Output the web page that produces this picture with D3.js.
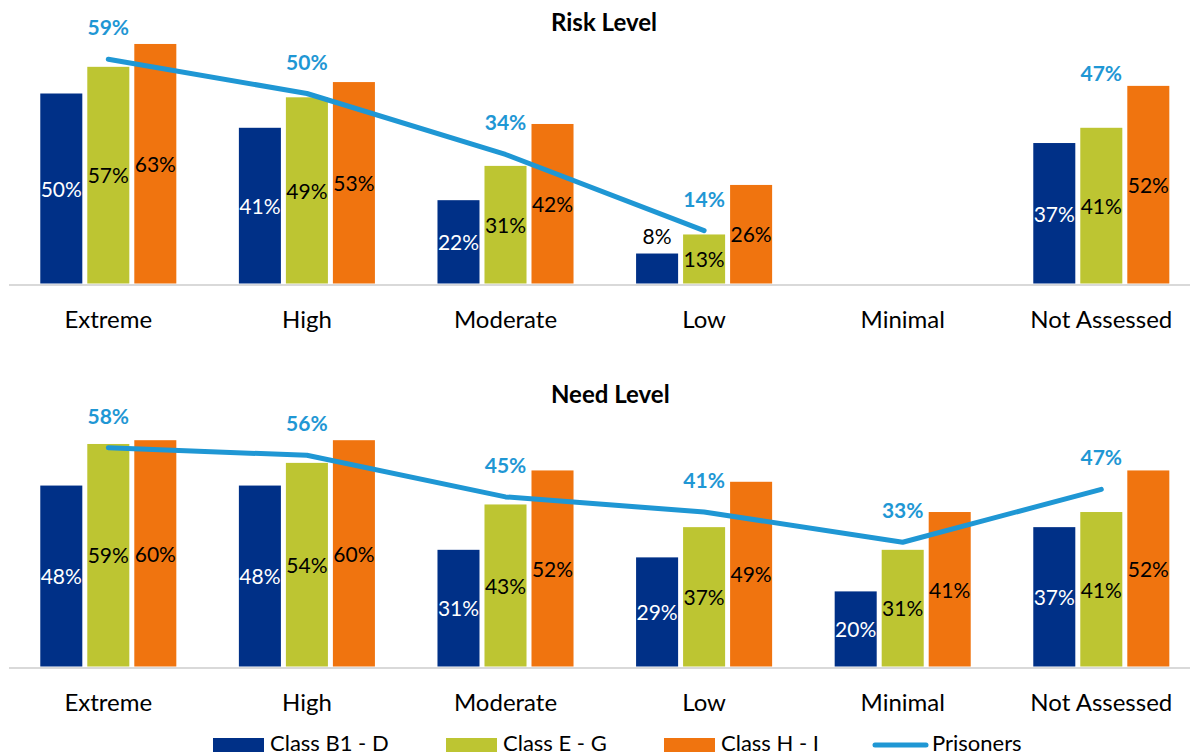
<!DOCTYPE html>
<html>
<head>
<meta charset="utf-8">
<script src="https://cdn.jsdelivr.net/npm/d3@7"></script>
<style>
  html, body { margin: 0; padding: 0; background: #ffffff; }
  svg { display: block; font-family: Lato, "Noto Sans", sans-serif; }
</style>
</head>
<body>
<svg id="chart" width="1190" height="756"></svg>
<script>
// ---------- data ----------
const categories = ["Extreme", "High", "Moderate", "Low", "Minimal", "Not Assessed"];
const seriesNames = ["Class B1 - D", "Class E - G", "Class H - I"];
const lineName = "Prisoners";

const riskB1D = [50, 41, 22, 8, null, 37];
const riskEG  = [57, 49, 31, 13, null, 41];
const riskHI  = [63, 53, 42, 26, null, 52];
const riskPrisoners = [59, 50, 34, 14, null, 47];

const needB1D = [48, 48, 31, 29, 20, 37];
const needEG  = [59, 54, 43, 37, 31, 41];
const needHI  = [60, 60, 52, 49, 41, 52];
const needPrisoners = [58, 56, 45, 41, 33, 47];

const panelTitles = ["Risk Level", "Need Level"];

// ---------- styling ----------
const colors = ["#003087", "#bdc532", "#f0740f"];
const labelColors = ["#ffffff", "#000000", "#000000"];
const lineColor = "#1f97d4";

const svg = d3.select("#chart");

const x0 = d3.scaleBand().domain(categories).range([9, 1200.6])
  .paddingInner(0.315).paddingOuter(0.1575);
const x1 = d3.scaleBand().domain(seriesNames).range([0, x0.bandwidth()])
  .paddingInner(0.106);

const panels = [
  { title: panelTitles[0], bars: [riskB1D, riskEG, riskHI], line: riskPrisoners,
    y: d3.scaleLinear().domain([0, 70]).range([284, 284 - 70 * 3.81]),
    titleY: 31, catY: 328 },
  { title: panelTitles[1], bars: [needB1D, needEG, needHI], line: needPrisoners,
    y: d3.scaleLinear().domain([0, 70]).range([667, 667 - 70 * 3.78]),
    titleY: 403, catY: 711 }
];

panels.forEach((p, pi) => {
  const g = svg.append("g");
  const y = p.y;
  const base = y(0);

  // title
  g.append("text").attr("x", 551).attr("y", p.titleY)
    .attr("text-anchor", "start").attr("font-weight", "bold")
    .attr("font-size", 24).attr("fill", "#000").text(p.title);

  // category axis
  const xAxis = d3.axisBottom(x0).tickSize(0).tickPadding(0);
  const ax = g.append("g").attr("transform", `translate(0,${base})`).call(xAxis);
  ax.select(".domain").attr("stroke", "#d9d9d9").attr("stroke-width", 2)
    .attr("d", `M9,1H1190`);
  ax.selectAll(".tick text").attr("y", p.catY - base).attr("dy", 0)
    .attr("font-size", 24).attr("fill", "#000").attr("font-family", "Lato, 'Noto Sans', sans-serif");

  // bars
  p.bars.forEach((vals, si) => {
    const sg = g.append("g");
    const data = categories.map((c, i) => ({ c, v: vals[i] })).filter(d => d.v != null);
    sg.selectAll("rect").data(data).join("rect")
      .attr("x", d => x0(d.c) + x1(seriesNames[si]))
      .attr("y", d => y(d.v))
      .attr("width", x1.bandwidth())
      .attr("height", d => base - y(d.v) - 0.5)
      .attr("fill", colors[si]);
    sg.selectAll("text").data(data).join("text")
      .attr("x", d => x0(d.c) + x1(seriesNames[si]) + x1.bandwidth() / 2)
      .attr("y", d => {
        const h = base - y(d.v);
        return h < 40 ? y(d.v) - 10 : (y(d.v) + base) / 2 + 8;
      })
      .attr("text-anchor", "middle").attr("font-size", 21)
      .attr("fill", d => (base - y(d.v) < 40 ? "#000" : labelColors[si]))
      .text(d => d.v + "%");
  });

  // line
  const pts = categories.map((c, i) => ({ c, v: p.line[i], i }));
  const isDef = (d) => d.v != null &&
    ((d.i > 0 && p.line[d.i - 1] != null) || (d.i < p.line.length - 1 && p.line[d.i + 1] != null));
  const lineGen = d3.line().defined(isDef)
    .x(d => x0(d.c) + x0.bandwidth() / 2).y(d => y(d.v));
  g.append("path").datum(pts).attr("d", lineGen)
    .attr("fill", "none").attr("stroke", lineColor).attr("stroke-width", 5)
    .attr("stroke-linecap", "round").attr("stroke-linejoin", "round");

  g.selectAll(".lineLabel").data(pts.filter(d => d.v != null)).join("text")
    .attr("class", "lineLabel")
    .attr("x", d => x0(d.c) + x0.bandwidth() / 2)
    .attr("y", d => y(d.v) - 24)
    .attr("text-anchor", "middle").attr("font-size", 21).attr("font-weight", "bold")
    .attr("fill", lineColor).text(d => d.v + "%");
});

// legend
const legend = svg.append("g");
const legendX = [213, 446, 664];
seriesNames.forEach((s, i) => {
  legend.append("rect").attr("x", legendX[i]).attr("y", 738).attr("width", 51).attr("height", 14)
    .attr("fill", colors[i]);
  legend.append("text").attr("x", legendX[i] + 57).attr("y", 751)
    .attr("font-size", 22).attr("fill", "#000").text(s);
});
legend.append("line").attr("x1", 875).attr("x2", 926).attr("y1", 745).attr("y2", 745)
  .attr("stroke", lineColor).attr("stroke-width", 5).attr("stroke-linecap", "round");
legend.append("text").attr("x", 932).attr("y", 751)
  .attr("font-size", 22).attr("fill", "#000").text(lineName);
</script>
</body>
</html>
